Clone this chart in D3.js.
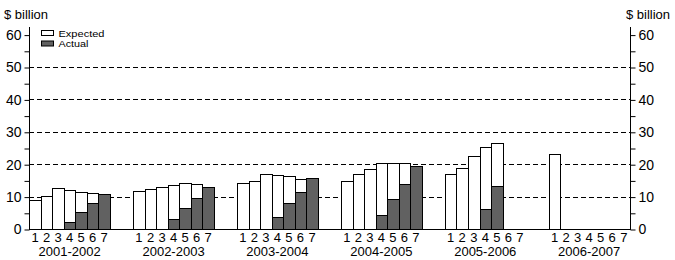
<!DOCTYPE html>
<html>
<head>
<meta charset="utf-8">
<script src="https://cdn.jsdelivr.net/npm/d3@7/dist/d3.min.js"></script>
<style>
  body { margin: 0; background: #fff; }
  svg text { font-family: "Liberation Sans", Arial, sans-serif; fill: #000; }
</style>
</head>
<body>
<div id="chart"></div>
<script>
const years = ["2001-2002", "2002-2003", "2003-2004", "2004-2005", "2005-2006", "2006-2007"];
const estimates = [1, 2, 3, 4, 5, 6, 7];
const yTicks = [0, 10, 20, 30, 40, 50, 60];
const yMinorTicks = [5, 15, 25, 35, 45, 55];
const gridValues = [10, 20, 30, 40, 50];

// expected capex per estimate number, one row per financial year
const expected = [
    [9.0, 10.1, 12.6, 11.9, 11.3, 11.0, null],
    [11.6, 12.3, 12.9, 13.5, 14.1, 13.8, null],
    [14.1, 14.7, 16.9, 16.6, 16.3, 15.5, null],
    [14.7, 16.9, 18.4, 20.3, 20.3, 20.3, null],
    [16.9, 18.8, 22.6, 25.2, 26.4, null, null],
    [23.0, null, null, null, null, null, null]
];

// actual capex realised so far
const actual = [
    [null, null, null, 2.3, 5.3, 7.9, 10.7],
    [null, null, null, 3.0, 6.4, 9.5, 12.9],
    [null, null, null, 3.6, 7.9, 11.3, 15.6],
    [null, null, null, 4.2, 9.2, 13.8, 19.4],
    [null, null, null, 6.1, 13.2, null, null],
    [null, null, null, null, null, null, null]
];

function drawChart() {
    const width = 675, height = 260;
    const left = 29.3, right = 629.5, bottom = 229, top = 34.6;

    const svg = d3.select("#chart")
        .append("svg")
        .attr("width", width)
        .attr("height", height);

    const x0 = d3.scaleBand()
        .domain(years)
        .range([left, right])
        .paddingInner(0.224)
        .paddingOuter(0);

    const x1 = d3.scaleBand()
        .domain(estimates)
        .range([0, x0.bandwidth()]);

    const y = d3.scaleLinear()
        .domain([0, 60])
        .range([bottom, top]);

    const px = v => Math.round(v);

    // dashed grid
    svg.append("g")
        .selectAll("line")
        .data(gridValues)
        .enter()
        .append("line")
        .attr("x1", px(left))
        .attr("x2", px(right))
        .attr("y1", d => px(y(d)) + 0.5)
        .attr("y2", d => px(y(d)) + 0.5)
        .attr("stroke", "#000")
        .attr("stroke-dasharray", "5,3");

    // bars
    const bars = years.flatMap((yr, g) => estimates.map((e, i) => ({
        year: yr,
        est: e,
        expected: expected[g][i],
        actual: actual[g][i]
    })));

    const barX = d => px(x0(d.year) + x1(d.est));
    const barW = d => px(x0(d.year) + x1(d.est) + x1.bandwidth()) - barX(d);

    svg.append("g")
        .selectAll("rect")
        .data(bars.filter(d => d.expected != null))
        .enter()
        .append("rect")
        .attr("x", d => barX(d) + 0.5)
        .attr("y", d => px(y(d.expected)) + 0.5)
        .attr("width", barW)
        .attr("height", d => px(y(0)) - px(y(d.expected)))
        .attr("fill", "#fff")
        .attr("stroke", "#000");

    svg.append("g")
        .selectAll("rect")
        .data(bars.filter(d => d.actual != null))
        .enter()
        .append("rect")
        .attr("x", d => barX(d) + 0.5)
        .attr("y", d => px(y(d.actual)) + 0.5)
        .attr("width", barW)
        .attr("height", d => px(y(0)) - px(y(d.actual)))
        .attr("fill", "#616161")
        .attr("stroke", "#000");

    // baseline
    svg.append("line")
        .attr("x1", px(left))
        .attr("x2", px(right) + 1)
        .attr("y1", px(y(0)) + 0.5)
        .attr("y2", px(y(0)) + 0.5)
        .attr("stroke", "#000");

    // y axes, left and right
    const yAxisTop = px(y(62.4));
    [["left", px(left) + 0.5], ["right", px(right) + 0.5]].forEach(([side, xPos]) => {
        const major = (side === "left" ? d3.axisLeft(y) : d3.axisRight(y))
            .tickValues(yTicks)
            .tickSize(5)
            .tickPadding(3);
        const minor = (side === "left" ? d3.axisLeft(y) : d3.axisRight(y))
            .tickValues(yMinorTicks)
            .tickSize(5)
            .tickFormat("");

        const gMaj = svg.append("g")
            .attr("transform", `translate(${xPos},0.5)`)
            .call(major);
        gMaj.select(".domain").remove();
        gMaj.selectAll("text")
            .style("font-size", "14px")
            .style("font-family", "Liberation Sans, Arial, sans-serif");

        const gMin = svg.append("g")
            .attr("transform", `translate(${xPos},0.5)`)
            .call(minor);
        gMin.select(".domain").remove();

        svg.append("line")
            .attr("x1", xPos).attr("x2", xPos)
            .attr("y1", yAxisTop)
            .attr("y2", px(y(0)) + 1)
            .attr("stroke", "#000");
    });

    svg.append("text")
        .attr("x", 4)
        .attr("y", 19)
        .style("font-size", "13px")
        .text("$ billion");

    svg.append("text")
        .attr("x", 626)
        .attr("y", 19)
        .style("font-size", "13px")
        .text("$ billion");

    // x labels: estimate numbers and years
    years.forEach(yr => {
        const gx = svg.append("g")
            .attr("transform", `translate(${x0(yr)},${bottom})`)
            .call(d3.axisBottom(x1).tickSize(0).tickPadding(4));
        gx.select(".domain").remove();
        gx.selectAll("text")
            .style("font-size", "13px")
            .style("font-family", "Liberation Sans, Arial, sans-serif");

        svg.append("text")
            .attr("x", x0(yr) + x0.bandwidth() / 2)
            .attr("y", 256)
            .attr("text-anchor", "middle")
            .style("font-size", "13px")
            .text(yr);
    });

    // legend
    const legend = [
        { label: "Expected", fill: "#fff" },
        { label: "Actual", fill: "#616161" }
    ];
    const lg = svg.append("g")
        .selectAll("g")
        .data(legend)
        .enter()
        .append("g")
        .attr("transform", (d, i) => `translate(41.5,${30.5 + i * 10.5})`);
    lg.append("rect")
        .attr("width", 12)
        .attr("height", 5)
        .attr("fill", d => d.fill)
        .attr("stroke", "#000");
    lg.append("text")
        .attr("x", 17)
        .attr("y", 6)
        .style("font-size", "9.5px")
        .attr("textLength", (d, i) => i === 0 ? 46 : 30)
        .attr("lengthAdjust", "spacingAndGlyphs")
        .text(d => d.label);
}

window.addEventListener("load", drawChart);
</script>
</body>
</html>
